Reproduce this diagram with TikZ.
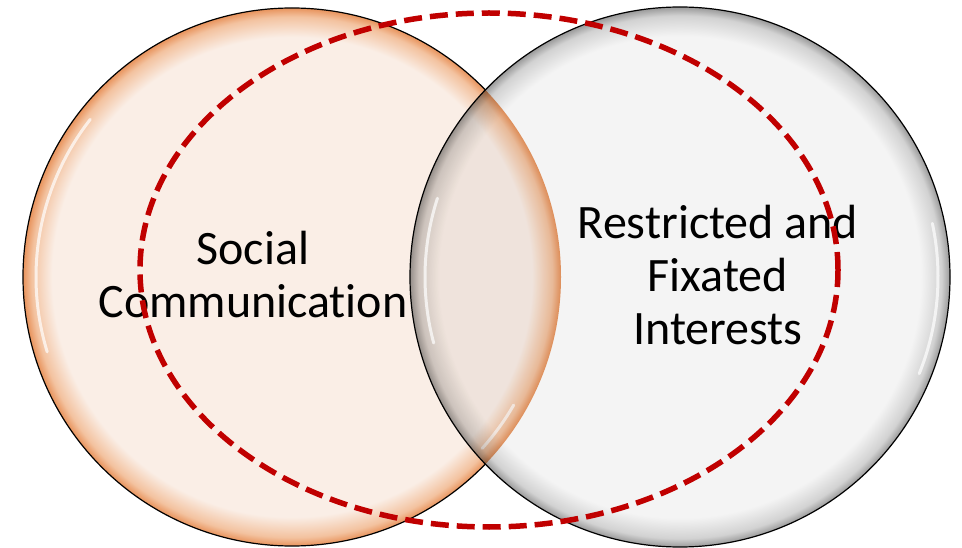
\documentclass[tikz,border=0pt]{standalone}
\usepackage{fontspec}
\setmainfont[Ligatures=NoCommon]{Carlito}
\definecolor{peachin}{HTML}{FAEEE6}
\definecolor{peachmid}{HTML}{F3C29F}
\definecolor{peachrim}{HTML}{E8935C}
\definecolor{greyin}{HTML}{F4F4F4}
\definecolor{greymid}{HTML}{D2D2D2}
\definecolor{greyrim}{HTML}{9A9A9A}
\definecolor{dashred}{HTML}{C00000}
\pgfdeclareradialshading{peachglass}{\pgfpoint{0bp}{0bp}}{color(0bp)=(peachin); color(22.3bp)=(peachin); color(24.2bp)=(peachmid); color(25bp)=(peachrim); color(50bp)=(peachrim)}
\pgfdeclareradialshading{greyglass}{\pgfpoint{0bp}{0bp}}{color(0bp)=(greyin); color(22.3bp)=(greyin); color(24.2bp)=(greymid); color(25bp)=(greyrim); color(50bp)=(greyrim)}

\begin{document}
\begin{tikzpicture}[x=1pt,y=1pt,
        bubble/.style={draw=black,line width=1.2pt},
        shine/.style={white,line width=3pt,opacity=.7,line cap=round},
        vennlabel/.style={font=\fontsize{48}{53}\selectfont,align=center,inner sep=0pt},
        ringdash/.style={draw=dashred,line width=5.5pt,dash pattern=on 18pt off 8pt}]
        \useasboundingbox (0,0) rectangle (962,547);

        % the two circles
        \shade[shading=peachglass] (292,270) circle[radius=269];
        \begin{scope}[even odd rule]
            \clip (0,0) rectangle (962,547) (680,270) circle[radius=270];
            \draw[bubble] (292,270) circle[radius=269];
        \end{scope}
        \draw[shine] (292,270) ++(142:256) arc[start angle=142,end angle=197,radius=256];
        \draw[shine] (292,270) ++(-30:256) arc[start angle=-30,end angle=-42,radius=256];

        \begin{scope}[blend mode=multiply]
            \shade[shading=greyglass] (680,270) circle[radius=270];
        \end{scope}
        \draw[bubble] (680,270) circle[radius=270];
        \draw[shine] (680,270) ++(162:255) arc[start angle=162,end angle=195,radius=255];
        \draw[shine] (680,270) ++(12:258) arc[start angle=12,end angle=-22,radius=258];

        % labels
        \node[vennlabel] (social) at (253,272) {Social\\Communication};
        \node[vennlabel] (restricted) at (718,272) {Restricted and\\Fixated\\Interests};

        % dashed ring
        \draw[ringdash] (489,277) ellipse[x radius=349,y radius=257];

    \end{tikzpicture}
\end{document}
